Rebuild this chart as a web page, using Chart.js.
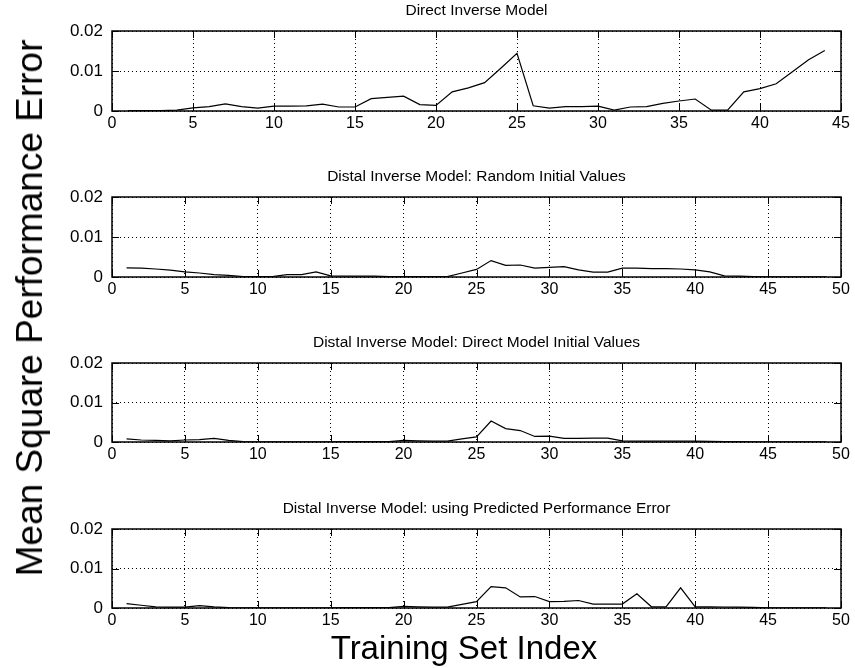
<!DOCTYPE html>
<html>
<head>
<meta charset="utf-8">
<script src="https://cdn.jsdelivr.net/npm/chart.js@4.4.0/dist/chart.umd.min.js"></script>
<style>
body { margin: 0; background: #fff; width: 855px; height: 668px; position: relative; overflow: hidden; font-family: 'Liberation Sans', Arial, sans-serif; }
canvas { position: absolute; left: 0; }
#ylab { position: absolute; left: 30px; top: 308px; transform: translate(-50%, -50%) rotate(-90deg); font-size: 37px; white-space: nowrap; color: #000; }
#xlab { position: absolute; left: 464px; top: 648px; transform: translate(-50%, -50%); font-size: 33px; white-space: nowrap; color: #000; }
</style>
</head>
<body>
<canvas id="p1" width="855" height="166" style="top:0px"></canvas>
<canvas id="p2" width="855" height="166" style="top:166px"></canvas>
<canvas id="p3" width="855" height="166" style="top:332px"></canvas>
<canvas id="p4" width="855" height="170" style="top:498px"></canvas>
<div id="ylab">Mean Square Performance Error</div>
<div id="xlab">Training Set Index</div>
<script>
// values, index 1..n
var directInverse = [0.0001, 0.0001, 0.0001, 0.0002, 0.0008, 0.0011, 0.0018, 0.0011, 0.0007, 0.0012,
    0.0012, 0.0013, 0.0017, 0.0010, 0.0010, 0.0031, 0.0034, 0.0037, 0.0016, 0.0014,
    0.0048, 0.0058, 0.0071, 0.0107, 0.0144, 0.0013, 0.0007, 0.0011, 0.0011, 0.0012,
    0.0002, 0.0010, 0.0011, 0.0019, 0.0025, 0.0030, 0.0002, 0.0002, 0.0048, 0.0056,
    0.0068, 0.0098, 0.0128, 0.0151];
var distalRandom = [0.0023, 0.0022, 0.0020, 0.0017, 0.0013, 0.0010, 0.0006, 0.0004, 0.0001, 0.0001,
    0.0001, 0.0006, 0.0006, 0.0013, 0.0003, 0.0002, 0.0002, 0.0002, 0.0001, 0.0001,
    0.0001, 0.0001, 0.0001, 0.0010, 0.0019, 0.0041, 0.0029, 0.0030, 0.0022, 0.0024,
    0.0026, 0.0018, 0.0012, 0.0012, 0.0022, 0.0022, 0.0021, 0.0021, 0.0020, 0.0018,
    0.0013, 0.0003, 0.0002, 0.0001, 0.00005, 0.00005, 0.00005, 0.00005, 0.00005];
var distalDirect = [0.0008, 0.0005, 0.0004, 0.0003, 0.0005, 0.0006, 0.0009, 0.0004, 0.0001, 0.00005,
    0.00005, 0.00005, 0.00005, 0.00005, 0.00005, 0.0001, 0.0001, 0.0001, 0.0001, 0.0004,
    0.0003, 0.0002, 0.0002, 0.0008, 0.0013, 0.0053, 0.0034, 0.0029, 0.0014, 0.0015,
    0.0009, 0.0009, 0.0010, 0.0010, 0.0003, 0.0002, 0.0002, 0.0002, 0.0002, 0.0002,
    0.00015, 0.0001, 0.0001, 0.00005, 0.00002, 0.00002, 0.00002, 0.00002, 0.00002];
var distalPredicted = [0.0011, 0.0007, 0.0003, 0.0002, 0.0002, 0.0006, 0.0003, 0.0001, 0.00005, 0.00005,
    0.00005, 0.00005, 0.00005, 0.00005, 0.00005, 0.0001, 0.0001, 0.0001, 0.0001, 0.0004,
    0.0003, 0.0002, 0.0002, 0.0009, 0.0016, 0.0054, 0.0051, 0.0028, 0.0029, 0.0016,
    0.0017, 0.0019, 0.0010, 0.0010, 0.0010, 0.0036, 0.0003, 0.0003, 0.0051, 0.0003,
    0.0003, 0.00025, 0.0002, 0.00015, 0.00003, 0.00003, 0.00003, 0.00003, 0.00003];

var titles = ['Direct Inverse Model',
    'Distal Inverse Model: Random Initial Values',
    'Distal Inverse Model: Direct Model Initial Values',
    'Distal Inverse Model: using Predicted Performance Error'];
var xMaxes = [45, 50, 50, 50];
var yTicks = [0, 0.01, 0.02];

var fontFam = "'Liberation Sans', Arial, sans-serif";

// matlab style box with inward ticks on all four sides
var boxPlugin = {
    id: 'box',
    afterDatasetsDraw: function(chart) {
        var ctx = chart.ctx, a = chart.chartArea;
        var xs = chart.scales.x, ys = chart.scales.y;
        ctx.save();
        ctx.strokeStyle = '#000';
        ctx.lineWidth = 1;
        ctx.beginPath();
        xs.ticks.forEach(function(t) {
            var px = Math.round(xs.getPixelForValue(t.value)) + 0.5;
            ctx.moveTo(px, a.bottom); ctx.lineTo(px, a.bottom - 7);
            ctx.moveTo(px, a.top); ctx.lineTo(px, a.top + 7);
        });
        ys.ticks.forEach(function(t) {
            var py = Math.round(ys.getPixelForValue(t.value)) + 0.5;
            ctx.moveTo(a.left, py); ctx.lineTo(a.left + 7, py);
            ctx.moveTo(a.right, py); ctx.lineTo(a.right - 7, py);
        });
        ctx.stroke();
        ctx.lineWidth = 1.5;
        ctx.strokeRect(a.left, a.top, a.right - a.left, a.bottom - a.top);
        ctx.restore();
    }
};

function makePanel(id, title, values, xMax, canvasH, areaBottom) {
    var titleSize = 15.5;
    new Chart(document.getElementById(id), {
        type: 'line',
        data: {
            datasets: [{
                data: values.map(function(v, i) { return { x: i + 1, y: v }; }),
                borderColor: '#000',
                borderWidth: 1.2,
                pointRadius: 0,
                tension: 0,
                fill: false
            }]
        },
        options: {
            responsive: false,
            animation: false,
            layout: { padding: { left: 0, top: 0, right: 14, bottom: canvasH - areaBottom - 30 } },
            plugins: {
                legend: { display: false },
                tooltip: { enabled: false },
                title: {
                    display: true,
                    fullSize: false,
                    text: title,
                    color: '#000',
                    font: { family: fontFam, size: titleSize, weight: 'normal', lineHeight: 1.2 },
                    padding: { top: 1, bottom: 31 - 1 - titleSize * 1.2 }
                }
            },
            scales: {
                x: {
                    type: 'linear',
                    min: 0,
                    max: xMax,
                    afterFit: function(s) { s.height = 30; },
                    ticks: { stepSize: 5, color: '#000', padding: 3, maxRotation: 0, autoSkip: false,
                        font: { family: fontFam, size: 16 } },
                    grid: { color: '#000', lineWidth: 1, drawTicks: false },
                    border: { display: false, dash: [1, 3] }
                },
                y: {
                    min: 0,
                    max: 0.02,
                    afterFit: function(s) { s.width = 112; },
                    afterBuildTicks: function(s) { s.ticks = yTicks.map(function(v) { return { value: v }; }); },
                    ticks: { color: '#000', padding: 9,
                        font: { family: fontFam, size: 17 },
                        callback: function(v) { return String(v); } },
                    grid: { color: '#000', lineWidth: 1, drawTicks: false },
                    border: { display: false, dash: [1, 3] }
                }
            }
        },
        plugins: [boxPlugin]
    });
}

makePanel('p1', titles[0], directInverse, xMaxes[0], 166, 111);
makePanel('p2', titles[1], distalRandom, xMaxes[1], 166, 111);
makePanel('p3', titles[2], distalDirect, xMaxes[2], 166, 110);
makePanel('p4', titles[3], distalPredicted, xMaxes[3], 170, 110);
</script>
</body>
</html>
